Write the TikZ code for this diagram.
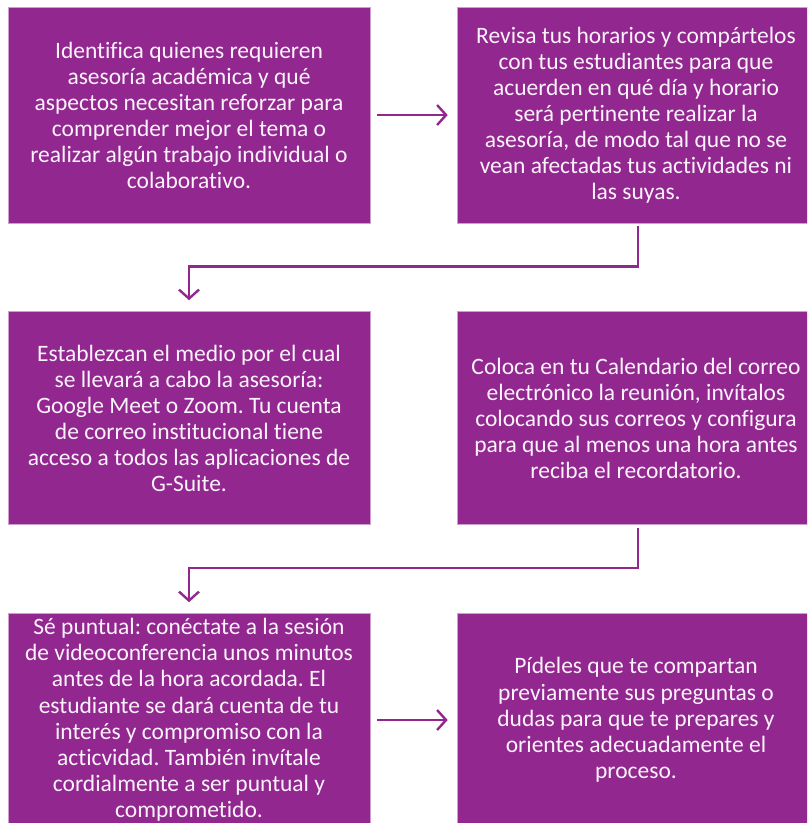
\documentclass[tikz,border=0pt]{standalone}
\usepackage{fontspec}
\setmainfont{Carlito}[Ligatures=NoCommon]
\usetikzlibrary{arrows.meta}
\definecolor{boxpurple}{HTML}{92278F}
\definecolor{boxtext}{HTML}{FBF3FB}
\begin{document}
\frenchspacing
\begin{tikzpicture}[x=1pt,y=-1pt,
  flowbox/.style={fill=boxpurple, draw=boxpurple!45!white, line width=0.6pt,
    text=boxtext, align=center, inner sep=0pt, minimum height=213pt,
    font=\fontsize{23.5}{26}\selectfont},
  flowarrow/.style={draw=boxpurple, line width=2.4pt,
    -{Straight Barb[length=9pt,width=20pt,line width=2.4pt]}}]
\useasboundingbox (0,0) rectangle (807,823);
\clip (0,0) rectangle (807,823);
\node[flowbox, minimum width=362pt, minimum height=216pt] (b1) at (189,115)
  {Identifica quienes requieren\\asesoría académica y qué\\aspectos necesitan reforzar para\\comprender mejor el tema o\\realizar algún trabajo individual o\\colaborativo.};
\node[flowbox, minimum width=358pt, minimum height=216pt] (b2) at (636,115)
  {Revisa tus horarios y compártelos\\con tus estudiantes para que\\acuerden en qué día y horario\\será pertinente realizar la\\asesoría, de modo tal que no se\\vean afectadas tus actividades ni\\las suyas.};
\node[flowbox, minimum width=362pt] (b3) at (189,418)
  {Establezcan el medio por el cual\\se llevará a cabo la asesoría:\\Google Meet o Zoom. Tu cuenta\\de correo institucional tiene\\acceso a todos las aplicaciones de\\G-Suite.};
\node[flowbox, minimum width=358pt] (b4) at (636,418)
  {Coloca en tu Calendario del correo\\electrónico la reunión, invítalos\\colocando sus correos y configura\\para que al menos una hora antes\\reciba el recordatorio.};
\node[flowbox, minimum width=362pt, font=\fontsize{23.5}{26.2}\selectfont] (b5) at (189,720)
  {Sé puntual: conéctate a la sesión\\de videoconferencia unos minutos\\antes de la hora acordada. El\\estudiante se dará cuenta de tu\\interés y compromiso con la\\acticvidad. También invítale\\cordialmente a ser puntual y\\comprometido.};
\node[flowbox, minimum width=358pt, font=\fontsize{23.5}{26.2}\selectfont] (b6) at (636,720)
  {Pídeles que te compartan\\previamente sus preguntas o\\dudas para que te prepares y\\orientes adecuadamente el\\proceso.};
\draw[flowarrow, shorten <=7pt, shorten >=9pt] (b1.east) -- (b2.west);
\draw[flowarrow, shorten <=7pt, shorten >=9pt] (b5.east) -- (b6.west);
\draw[flowarrow, shorten <=3pt, shorten >=11pt] ([xshift=2pt]b2.south) -- ++(0,43) -| (b3.north);
\draw[flowarrow, shorten <=3pt, shorten >=11pt] ([xshift=2pt]b4.south) -- ++(0,43) -| (b5.north);
\end{tikzpicture}
\end{document}
